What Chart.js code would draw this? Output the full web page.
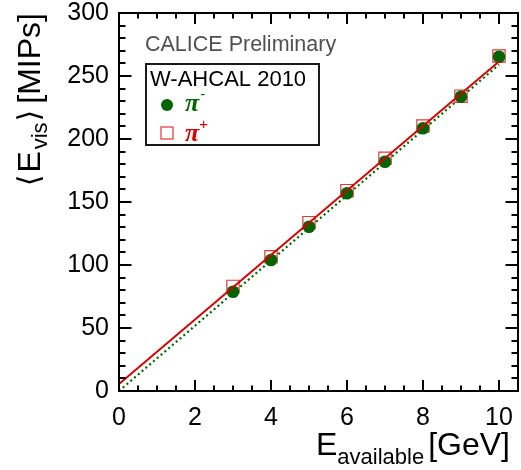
<!DOCTYPE html>
<html><head><meta charset="utf-8">
<script src="https://cdn.jsdelivr.net/npm/chart.js@4.4.0/dist/chart.umd.min.js"></script>
<style>html,body{margin:0;padding:0;background:#fff;overflow:hidden}canvas{display:block}</style>
</head><body>
<canvas id="c" width="521" height="470"></canvas>
<script>
// ---- data ----
const energies = [3, 4, 5, 6, 7, 8, 9, 10];
const piMinus  = [78.8, 104.0, 130.4, 156.9, 182.0, 208.5, 233.6, 265.3];
const piPlus   = [83.0, 106.6, 133.6, 159.0, 184.7, 210.3, 234.0, 265.9];
const fitRange   = [0, 10];
const fitPiMinus = [0.0, 259.0];
const fitPiPlus  = [5.5, 261.5];
const xTickStep = 2, xMinorStep = 0.5;
const yTickStep = 50, yMinorStep = 10;

const FONT = "'Liberation Sans', Arial, Helvetica, sans-serif";
const SYM = "'Liberation Serif', 'DejaVu Serif', serif";
const GREEN = '#006400', RED = '#d20000', SQ = '#e03838';

const pts = (xs, ys) => xs.map((x, i) => ({x, y: ys[i]}));
const noPad = s => { s.paddingTop = 0; s.paddingBottom = 0; s.paddingLeft = 0; s.paddingRight = 0; };

const framePlugin = {
  id: 'frame',
  afterDatasetsDraw(chart) {
    const {ctx, chartArea: a, scales: {x, y}} = chart;
    ctx.save();
    ctx.strokeStyle = '#000';
    ctx.lineWidth = 2;
    ctx.strokeRect(a.left, a.top, a.right - a.left, a.bottom - a.top);
    ctx.beginPath();
    for (let v = x.min; v <= x.max + 1e-9; v += xMinorStep) {
      const px = Math.round(x.getPixelForValue(v));
      const major = Math.abs(v / xTickStep - Math.round(v / xTickStep)) < 1e-6;
      const L = major ? 11 : 5.5;
      ctx.moveTo(px, a.bottom); ctx.lineTo(px, a.bottom - L);
      ctx.moveTo(px, a.top); ctx.lineTo(px, a.top + L);
    }
    for (let v = y.min; v <= y.max + 1e-9; v += yMinorStep) {
      const py = Math.round(y.getPixelForValue(v));
      const major = Math.abs(v / yTickStep - Math.round(v / yTickStep)) < 1e-6;
      const L = major ? 12.5 : 6.5;
      ctx.moveTo(a.left, py); ctx.lineTo(a.left + L, py);
      ctx.moveTo(a.right, py); ctx.lineTo(a.right - L, py);
    }
    ctx.stroke();
    ctx.restore();
  },
  afterDraw(chart) {
    const {ctx} = chart;
    ctx.save();
    ctx.textBaseline = 'alphabetic';
    // x title
    ctx.fillStyle = '#000';
    ctx.font = '32px ' + FONT;
    const gev = '[GeV]';
    const wG = ctx.measureText(gev).width;
    let xr = 510 - wG;
    ctx.fillText(gev, xr, 455);
    ctx.font = '22px ' + FONT;
    const wA = ctx.measureText('available').width;
    ctx.fillText('available', xr - 4 - wA, 464);
    ctx.font = '32px ' + FONT;
    const wE = ctx.measureText('E').width;
    ctx.fillText('E', xr - 4 - wA - wE, 455);

    // y title (rotated)
    ctx.save();
    ctx.translate(40, 13);
    ctx.rotate(-Math.PI / 2);
    ctx.font = '32px ' + FONT;
    const wM = ctx.measureText('[MIPs]').width;
    let pos = -wM;
    ctx.fillText('[MIPs]', pos, 0);
    ctx.font = '30px ' + "'DejaVu Sans', sans-serif";
    const wR = ctx.measureText('\u27E9').width;
    pos -= 6 + wR;
    ctx.fillText('\u27E9', pos, -1);
    ctx.font = '22px ' + FONT;
    const wV = ctx.measureText('vis').width;
    pos -= 1 + wV;
    ctx.fillText('vis', pos, 7);
    ctx.font = '32px ' + FONT;
    const wE2 = ctx.measureText('E').width;
    pos -= 2 + wE2;
    ctx.fillText('E', pos, 0);
    ctx.font = '30px ' + "'DejaVu Sans', sans-serif";
    const wL = ctx.measureText('\u27E8').width;
    pos -= 2 + wL;
    ctx.fillText('\u27E8', pos, -1);
    ctx.restore();

    // CALICE Preliminary
    ctx.fillStyle = '#505050';
    ctx.font = '21.5px ' + FONT;
    ctx.fillText('CALICE Preliminary', 145, 51);

    // legend box
    ctx.strokeStyle = '#1a1a1a';
    ctx.lineWidth = 2;
    ctx.fillStyle = '#fff';
    ctx.fillRect(146, 64, 173, 81);
    ctx.strokeRect(146, 64, 173, 81);
    ctx.fillStyle = '#000';
    ctx.font = '22px ' + FONT;
    ctx.fillText('W-AHCAL 2010', 150, 85.5);
    ctx.fillStyle = GREEN;
    ctx.beginPath(); ctx.arc(167, 105, 6, 0, Math.PI * 2); ctx.fill();
    ctx.strokeStyle = SQ; ctx.lineWidth = 1.2;
    ctx.strokeRect(161, 127, 12, 12);
    ctx.font = 'italic bold 26px ' + SYM;
    ctx.fillStyle = GREEN;
    ctx.fillText('\u03C0', 185, 111);
    const wP = ctx.measureText('\u03C0').width;
    ctx.font = '15px ' + FONT;
    ctx.fillText('-', 185 + wP + 1, 99);
    ctx.font = 'italic bold 26px ' + SYM;
    ctx.fillStyle = RED;
    ctx.fillText('\u03C0', 185, 141);
    ctx.font = '15px ' + FONT;
    ctx.fillText('+', 185 + wP, 129);
    ctx.restore();
  }
};

new Chart(document.getElementById('c').getContext('2d'), {
  type: 'scatter',
  data: {
    datasets: [
      {label: 'fit pi+', data: pts(fitRange, fitPiPlus), showLine: true, borderColor: RED,
       borderWidth: 2, pointRadius: 0, fill: false, order: 0},
      {label: 'fit pi-', data: pts(fitRange, fitPiMinus), showLine: true, borderColor: GREEN,
       borderWidth: 2.2, borderDash: [2, 3], pointRadius: 0, fill: false, order: 1},
      {label: 'pi-', data: pts(energies, piMinus), pointStyle: 'circle', pointRadius: 6.3,
       backgroundColor: GREEN, borderColor: GREEN, borderWidth: 0, order: 2},
      {label: 'pi+', data: pts(energies, piPlus), pointStyle: 'rect', pointRadius: 8.7,
       backgroundColor: 'rgba(0,0,0,0)', borderColor: SQ, borderWidth: 1.2, order: 3}
    ]
  },
  options: {
    responsive: false, animation: false, devicePixelRatio: 1,
    layout: {autoPadding: false, padding: {left: 0, right: 3, top: 13, bottom: 0}},
    plugins: {legend: {display: false}, tooltip: {enabled: false}},
    scales: {
      x: {
        type: 'linear', min: 0, max: 10.5,
        afterFit(s) { s.height = 79; noPad(s); },
        ticks: {stepSize: xTickStep, includeBounds: false, color: '#000', padding: 12,
                maxRotation: 0, font: {family: FONT, size: 25}},
        grid: {display: false, drawTicks: false}, border: {display: false}
      },
      y: {
        type: 'linear', min: 0, max: 300,
        afterFit(s) { s.width = 119; noPad(s); },
        ticks: {stepSize: yTickStep, color: '#000', padding: 10, font: {family: FONT, size: 25}},
        grid: {display: false, drawTicks: false}, border: {display: false}
      }
    }
  },
  plugins: [framePlugin]
});
</script>
</body></html>
